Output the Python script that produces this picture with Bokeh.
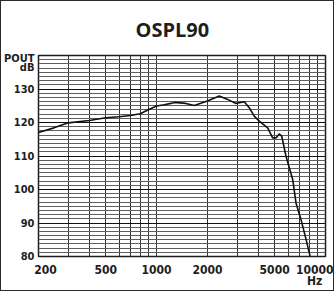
import math
from bokeh.plotting import figure
from bokeh.models import FixedTicker
from bokeh.embed import file_html
from bokeh.resources import INLINE

# ---- data ----
freq_hz = [200, 247, 300, 400, 500, 600, 700, 800, 900, 1000, 1109, 1216, 1271,
           1492, 1671, 2000, 2350, 2635, 2951, 3304, 3538, 3786, 4055, 4546,
           4866, 5091, 5326, 5508, 5834, 6105, 6394, 6690, 7163, 7672, 8100]
ospl90_db = [117.0, 118.4, 119.9, 120.6, 121.4, 121.7, 122.1, 122.6, 123.9, 124.9,
             125.3, 125.7, 126.0, 125.7, 125.1, 126.4, 127.9, 126.9, 125.7, 126.2,
             124.4, 121.9, 120.4, 118.4, 115.4, 115.4, 116.6, 115.9, 110.0, 106.5,
             103.0, 96.0, 91.0, 85.1, 80.1]
x_tick_values = [200, 500, 1000, 2000, 5000, 10000]
x_tick_labels = ["200", "500", "1000", "2000", "5000", "10000\nHz"]
y_tick_values = [80, 90, 100, 110, 120, 130]
y_unit_labels = ["POUT", "dB"]
title_text = "OSPL90"

FONT_NUM = "'Liberation Sans Narrow', 'DejaVu Sans Condensed', sans-serif"
INK = "#1e1e1e"

X0, X1, Y0, Y1 = 200, 10000, 80, 140
FRAME_W, FRAME_H = 287, 201

p = figure(width=324, height=281, x_axis_type="log",
           x_range=(X0, X1), y_range=(Y0, Y1),
           output_backend="svg", toolbar_location=None,
           min_border_left=29, min_border_right=8,
           min_border_top=47, min_border_bottom=30,
           frame_width=FRAME_W, frame_height=FRAME_H)
p.styles = {"border": "1px solid #2a2a2a"}
p.background_fill_color = "white"
p.border_fill_color = "white"
p.outline_line_color = INK
p.outline_line_width = 1.5

# title
p.title.text = title_text
p.title.align = "left"
p.title.offset = 97
p.title.text_font = "Open Sans"
p.title.text_font_style = "bold"
p.title.text_font_size = "20px"
p.title.text_color = INK
p.title.standoff = 25

# grid
v_lines = list(range(200, 1000, 100)) + list(range(1000, 10001, 1000))
p.xgrid.ticker = FixedTicker(ticks=v_lines)
p.xgrid.grid_line_color = "#333333"
p.xgrid.grid_line_width = 1

h_major = list(range(80, 141, 10))
h_minor = [80 + 1.25 * i for i in range(49) if (1.25 * i) % 10 != 0]
p.ygrid.ticker = FixedTicker(ticks=h_major, minor_ticks=h_minor)
p.ygrid.grid_line_color = "#111111"
p.ygrid.grid_line_width = 1
p.ygrid.minor_grid_line_color = "#5e5e5e"
p.ygrid.minor_grid_line_width = 1

# x axis: labels nudged inward at both ends, like the reference
ppd = FRAME_W / math.log10(X1 / X0)
nudge_px = [7, 0, 0, 0, 0, -6]
x_label_pos = [round(v * 10 ** (d / ppd)) for v, d in zip(x_tick_values, nudge_px)]
p.xaxis.ticker = FixedTicker(ticks=x_label_pos)
p.xaxis.major_label_overrides = {pos: t for pos, t in zip(x_label_pos, x_tick_labels)}
p.xaxis.axis_line_color = None
p.xaxis.major_tick_line_color = None
p.xaxis.minor_tick_line_color = None
p.xaxis.major_tick_out = 0
p.xaxis.major_tick_in = 0
p.xaxis.major_label_standoff = 6
p.xaxis.major_label_text_font = FONT_NUM
p.xaxis.major_label_text_font_style = "bold"
p.xaxis.major_label_text_font_size = "12px"
p.xaxis.major_label_text_line_height = 0.82
p.xaxis.major_label_text_color = INK

# y axis: numbers plus the unit labels at the top
unit_pos = [139.2, 136.4]
p.yaxis.ticker = FixedTicker(ticks=y_tick_values + unit_pos)
p.yaxis.major_label_overrides = {u: t for u, t in zip(unit_pos, y_unit_labels)}
p.yaxis.axis_line_color = None
p.yaxis.major_tick_line_color = None
p.yaxis.minor_tick_line_color = None
p.yaxis.major_tick_out = 0
p.yaxis.major_tick_in = 0
p.yaxis.major_label_standoff = 4
p.yaxis.major_label_text_font = FONT_NUM
p.yaxis.major_label_text_font_style = "bold"
p.yaxis.major_label_text_font_size = "11px"
p.yaxis.major_label_text_color = INK

# curve
p.line(freq_hz, ospl90_db, line_color="#111111", line_width=1.6)

open("out.html", "w").write(file_html(p, INLINE))
